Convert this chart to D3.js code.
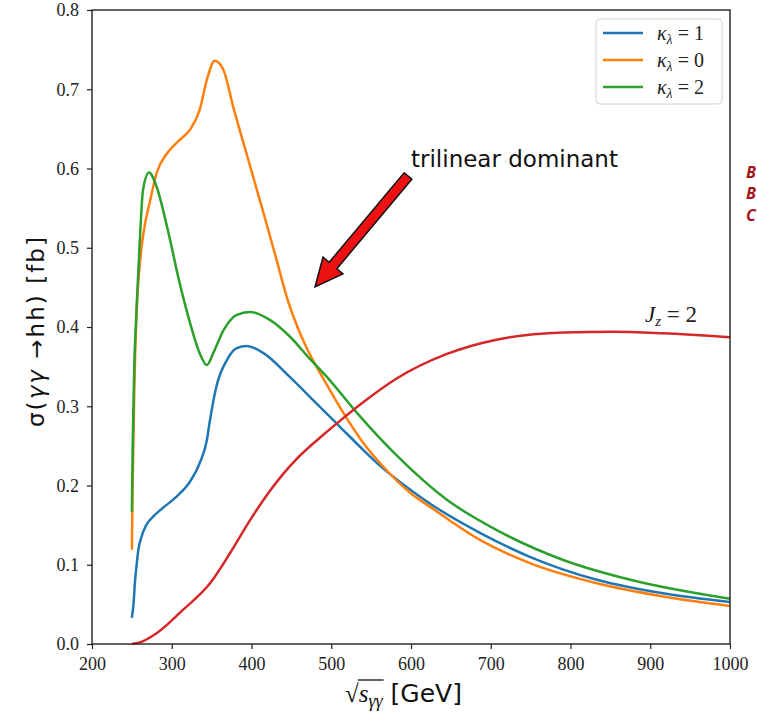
<!DOCTYPE html>
<html>
<head>
<meta charset="utf-8">
<script src="https://cdn.jsdelivr.net/npm/d3@7/dist/d3.min.js"></script>
<style>
  body { margin: 0; background: #fff; }
  svg { display: block; }
</style>
</head>
<body>
<div id="chart"></div>
<script>
// curves: sqrt(s) in GeV, sigma in fb
var sK1 = [250, 252, 254, 256, 258, 262, 268, 276, 288, 306, 323, 335, 344, 348, 356, 369, 381, 394, 415, 448, 482, 509, 540, 561, 600, 624, 687, 749, 833, 916, 1000]
var vK1 = [0.033, 0.05, 0.08, 0.10, 0.118, 0.135, 0.150, 0.160, 0.171, 0.186, 0.205, 0.228, 0.257, 0.283, 0.325, 0.358, 0.373, 0.376, 0.367, 0.337, 0.303, 0.276, 0.245, 0.225, 0.194, 0.177, 0.140, 0.110, 0.081, 0.064, 0.053]

var sK0 = [250, 251, 253, 256, 260, 264, 273, 281, 294, 310, 323, 335, 344, 354, 365, 377, 394, 415, 430, 446, 458, 470, 482, 498, 515, 540, 565, 600, 624, 687, 749, 833, 916, 1000]
var vK0 = [0.119, 0.2, 0.32, 0.42, 0.48, 0.515, 0.56, 0.594, 0.619, 0.636, 0.649, 0.674, 0.712, 0.736, 0.724, 0.678, 0.618, 0.544, 0.49, 0.432, 0.399, 0.372, 0.349, 0.321, 0.292, 0.254, 0.224, 0.19, 0.173, 0.131, 0.102, 0.0766, 0.060, 0.048]

var sK2 = [250, 251, 253, 256, 260, 264, 271.5, 281, 294, 310, 323, 335, 344, 352, 365, 381, 398, 423, 448, 473, 498, 532, 582, 645, 707, 791, 875, 1000]
var vK2 = [0.167, 0.25, 0.35, 0.426, 0.51, 0.573, 0.595, 0.577, 0.527, 0.455, 0.405, 0.367, 0.352, 0.367, 0.396, 0.415, 0.419, 0.409, 0.388, 0.360, 0.333, 0.292, 0.238, 0.182, 0.144, 0.106, 0.081, 0.057]

var sJz = [250, 260, 281, 314, 348, 373, 398, 423, 440, 457, 490, 509, 540, 582, 645, 707, 791, 854, 916, 1000]
var vJz = [0, 0.002, 0.0135, 0.043, 0.0766, 0.1145, 0.156, 0.193, 0.215, 0.234, 0.264, 0.28, 0.305, 0.335, 0.366, 0.384, 0.393, 0.394, 0.392, 0.387]

var xTicks = [200, 300, 400, 500, 600, 700, 800, 900, 1000]
var yTicks = [0.0, 0.1, 0.2, 0.3, 0.4, 0.5, 0.6, 0.7, 0.8]
var legendLabels = ["1", "0", "2"]

var series = [
  { s: sK1, v: vK1, color: "#1f77b4" },
  { s: sK0, v: vK0, color: "#ff7f0e" },
  { s: sK2, v: vK2, color: "#2ca02c" },
  { s: sJz, v: vJz, color: "#d62728" }
]

var width = 757, height = 716
var m = { left: 92, right: 27, top: 10, bottom: 72 }

var svg = d3.select("#chart").append("svg")
  .attr("width", width)
  .attr("height", height)

var x = d3.scaleLinear().domain([200, 1000]).range([m.left, width - m.right])
var y = d3.scaleLinear().domain([0, 0.8]).range([height - m.bottom, m.top])

var serif = "'Liberation Serif', 'Times New Roman', serif"
var sans = "'DejaVu Sans', sans-serif"

// curves
var line = d3.line()
  .x(function(d) { return x(d[0]) })
  .y(function(d) { return y(d[1]) })
  .curve(d3.curveMonotoneX)

var plot = svg.append("g")
series.forEach(function(sr) {
  var pts = sr.s.map(function(s, i) { return [s, sr.v[i]] })
  plot.append("path")
    .datum(pts)
    .attr("fill", "none")
    .attr("stroke", sr.color)
    .attr("stroke-width", 2.5)
    .attr("stroke-linejoin", "round")
    .attr("d", line)
})

// axes
var xAxis = svg.append("g")
  .attr("transform", "translate(0," + y(0) + ")")
  .call(d3.axisBottom(x).tickValues(xTicks).tickSize(5).tickPadding(6).tickFormat(d3.format("d")))
var yAxis = svg.append("g")
  .attr("transform", "translate(" + x(200) + ",0)")
  .call(d3.axisLeft(y).tickValues(yTicks).tickSize(5).tickPadding(8).tickFormat(d3.format(".1f")))

;[xAxis, yAxis].forEach(function(a) {
  a.select(".domain").remove()
  a.selectAll(".tick line").attr("stroke", "#222").attr("stroke-width", 1.2)
  a.selectAll(".tick text")
    .attr("fill", "#222")
    .style("font-family", serif)
    .style("font-size", "18px")
})
xAxis.selectAll(".tick text").attr("dy", "0.85em")
yAxis.selectAll(".tick text").attr("dy", "0.33em")

svg.append("rect")
  .attr("x", x(200)).attr("y", y(0.8))
  .attr("width", x(1000) - x(200)).attr("height", y(0) - y(0.8))
  .attr("fill", "none").attr("stroke", "#222").attr("stroke-width", 1.4)

// legend
var lg = svg.append("g")
lg.append("rect")
  .attr("x", 596).attr("y", 19).attr("width", 126).attr("height", 85)
  .attr("rx", 4)
  .attr("fill", "#fff").attr("fill-opacity", 0.8)
  .attr("stroke", "#d4d4d4")
legendLabels.forEach(function(lab, i) {
  var ly = 33 + i * 27
  lg.append("line")
    .attr("x1", 603).attr("x2", 643).attr("y1", ly).attr("y2", ly)
    .attr("stroke", series[i].color).attr("stroke-width", 2.5)
  var t = lg.append("text")
    .attr("x", 657).attr("y", ly + 7)
    .style("font-family", serif).style("font-size", "20px").attr("fill", "#222")
  t.append("tspan").style("font-style", "italic").text("κ")
  t.append("tspan").attr("dy", 4).style("font-size", "14px").style("font-style", "italic").text("λ")
  t.append("tspan").attr("dy", -4).text(" = " + lab)
})

// J_z label
var jz = svg.append("text")
  .attr("x", 645).attr("y", 322)
  .style("font-family", serif).style("font-size", "23px").attr("fill", "#222")
jz.append("tspan").style("font-style", "italic").text("J")
jz.append("tspan").attr("dy", 4).style("font-size", "15px").style("font-style", "italic").text("z")
jz.append("tspan").attr("dy", -4).text(" = 2")

// annotation
svg.append("text")
  .attr("x", 411).attr("y", 167)
  .style("font-family", sans).style("font-size", "23px").attr("fill", "#111")
  .text("trilinear dominant")

var ax0 = 408, ay0 = 176, ax1 = 315, ay1 = 287
var ang = Math.atan2(ay1 - ay0, ax1 - ax0) * 180 / Math.PI
var len = Math.hypot(ax1 - ax0, ay1 - ay0)
var hl = 28, hw = 13, sw = 5
svg.append("path")
  .attr("transform", "translate(" + ax0 + "," + ay0 + ") rotate(" + ang + ")")
  .attr("d", "M0," + (-sw) + "L" + (len - hl) + "," + (-sw) + "L" + (len - hl) + "," + (-hw) +
    "L" + len + ",0L" + (len - hl) + "," + hw + "L" + (len - hl) + "," + sw + "L0," + sw + "Z")
  .attr("fill", "#ee1111").attr("stroke", "#111").attr("stroke-width", 1.5)
  .attr("stroke-linejoin", "miter")

// axis titles
var yl = svg.append("text")
  .attr("transform", "translate(44,332) rotate(-90)")
  .attr("text-anchor", "middle")
  .attr("textLength", 190).attr("lengthAdjust", "spacing")
  .style("font-family", sans).style("font-size", "23px").attr("fill", "#111")
yl.append("tspan").text("σ(")
yl.append("tspan").style("font-style", "italic").text("γγ")
yl.append("tspan").text(" →hh) [fb]")

var xl = svg.append("text")
  .attr("x", 345).attr("y", 702)
  .style("font-family", sans).style("font-size", "25px").attr("fill", "#111")
xl.append("tspan").style("font-family", serif).text("√")
xl.append("tspan").style("font-family", serif).style("font-style", "italic").text("s")
xl.append("tspan").attr("dy", 5).style("font-family", serif).style("font-style", "italic").style("font-size", "18px").text("γγ")
xl.append("tspan").attr("dy", -5).text(" [GeV]")
var rootEnd = 345 + xl.node().getSubStringLength(0, 4)
var rootStart = 345 + xl.node().getSubStringLength(0, 1)
svg.append("line")
  .attr("x1", rootStart - 1).attr("x2", rootEnd + 1)
  .attr("y1", 680).attr("y2", 680)
  .attr("stroke", "#111").attr("stroke-width", 1.3)

// slide text at the right edge
var side = ["B", "B", "C"]
side.forEach(function(c, i) {
  svg.append("text")
    .attr("x", 746).attr("y", [178, 199, 221][i])
    .style("font-family", "'Open Sans', sans-serif").style("font-size", "16px")
    .style("font-weight", "bold").style("font-style", "italic")
    .attr("fill", "#a3141a")
    .text(c)
})
</script>
</body>
</html>
